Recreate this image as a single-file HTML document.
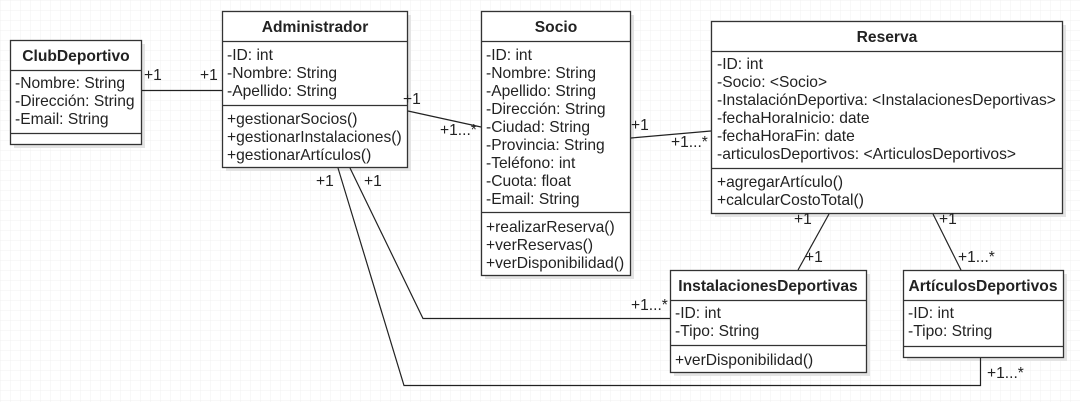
<!DOCTYPE html>
<html><head><meta charset="utf-8"><style>
html,body{margin:0;padding:0;background:#fff;}
svg{display:block;}
text{font-family:"Liberation Sans",sans-serif;font-size:15.6px;fill:#222;}
.h{font-weight:bold;text-anchor:middle;}
</style></head><body>
<svg width="1080" height="402" xmlns="http://www.w3.org/2000/svg">
<defs>
<pattern id="g" width="10" height="10" patternUnits="userSpaceOnUse">
<path d="M10 0H0V10" fill="none" stroke="#f0f0f0" stroke-width="1"/>
</pattern>
</defs>
<rect width="1080" height="402" fill="url(#g)"/>
<g fill="#e4e4e4">
<rect x="14" y="44" width="131" height="104"/>
<rect x="226" y="15" width="185" height="156"/>
<rect x="485" y="15" width="149" height="264"/>
<rect x="715" y="25" width="351" height="192"/>
<rect x="674" y="274" width="196" height="102"/>
<rect x="907" y="274" width="160" height="87"/>
</g>
<g fill="#fff" stroke="#333" stroke-width="1.3">
<rect x="10.5" y="40.5" width="131" height="104"/>
<rect x="222.5" y="11.5" width="185" height="156"/>
<rect x="481.5" y="11.5" width="149" height="264"/>
<rect x="711.5" y="21.5" width="351" height="192"/>
<rect x="670.5" y="270.5" width="196" height="102"/>
<rect x="903.5" y="270.5" width="160" height="87"/>
</g>
<g stroke="#333" stroke-width="1.3">
<line x1="10" y1="70.5" x2="142" y2="70.5"/><line x1="10" y1="133.5" x2="142" y2="133.5"/>
<line x1="222" y1="41.5" x2="408" y2="41.5"/><line x1="222" y1="105.5" x2="408" y2="105.5"/>
<line x1="481" y1="41.5" x2="631" y2="41.5"/><line x1="481" y1="212.5" x2="631" y2="212.5"/>
<line x1="711" y1="51.5" x2="1063" y2="51.5"/><line x1="711" y1="168.5" x2="1063" y2="168.5"/>
<line x1="670" y1="300.5" x2="867" y2="300.5"/><line x1="670" y1="345.5" x2="867" y2="345.5"/>
<line x1="903" y1="300.5" x2="1064" y2="300.5"/><line x1="903" y1="346.5" x2="1064" y2="346.5"/>
</g>
<g stroke="#222" stroke-width="1.2" fill="none">
<line x1="142" y1="90.5" x2="222" y2="90.5"/>
<line x1="408" y1="111" x2="481" y2="127"/>
<line x1="631" y1="138" x2="711" y2="131"/>
<line x1="829" y1="214" x2="798" y2="270"/>
<line x1="933" y1="214" x2="961" y2="270"/>
<polyline points="338,168 404,385.5 980.5,385.5 980.5,358"/>
<polyline points="350,168 423,318.5 670,318.5"/>
</g>
<text class="h" x="76" y="61">ClubDeportivo</text>
<text x="15" y="88">-Nombre: String</text>
<text x="15" y="106">-Dirección: String</text>
<text x="15" y="124">-Email: String</text>
<text class="h" x="315" y="32">Administrador</text>
<text x="227" y="60">-ID: int</text>
<text x="227" y="78">-Nombre: String</text>
<text x="227" y="96">-Apellido: String</text>
<text x="227" y="124">+gestionarSocios()</text>
<text x="227" y="142">+gestionarInstalaciones()</text>
<text x="227" y="160">+gestionarArtículos()</text>
<text class="h" x="556" y="32">Socio</text>
<text x="486" y="60">-ID: int</text>
<text x="486" y="78">-Nombre: String</text>
<text x="486" y="96">-Apellido: String</text>
<text x="486" y="114">-Dirección: String</text>
<text x="486" y="132">-Ciudad: String</text>
<text x="486" y="150">-Provincia: String</text>
<text x="486" y="168">-Teléfono: int</text>
<text x="486" y="186">-Cuota: float</text>
<text x="486" y="204">-Email: String</text>
<text x="486" y="232">+realizarReserva()</text>
<text x="486" y="250">+verReservas()</text>
<text x="486" y="268">+verDisponibilidad()</text>
<text class="h" x="887" y="42">Reserva</text>
<text x="717" y="69">-ID: int</text>
<text x="717" y="87">-Socio: &lt;Socio&gt;</text>
<text x="717" y="105">-InstalaciónDeportiva: &lt;InstalacionesDeportivas&gt;</text>
<text x="717" y="123">-fechaHoraInicio: date</text>
<text x="717" y="141">-fechaHoraFin: date</text>
<text x="717" y="159">-articulosDeportivos: &lt;ArticulosDeportivos&gt;</text>
<text x="717" y="187">+agregarArtículo()</text>
<text x="717" y="205">+calcularCostoTotal()</text>
<text class="h" x="768" y="291">InstalacionesDeportivas</text>
<text x="675" y="318">-ID: int</text>
<text x="675" y="336">-Tipo: String</text>
<text x="675" y="365">+verDisponibilidad()</text>
<text class="h" x="983" y="291">ArtículosDeportivos</text>
<text x="908" y="318">-ID: int</text>
<text x="908" y="336">-Tipo: String</text>
<text x="144" y="80">+1</text>
<text x="200" y="80">+1</text>
<text x="403" y="104">+1</text>
<text x="440" y="135">+1...*</text>
<text x="631" y="130">+1</text>
<text x="671" y="147">+1...*</text>
<text x="794" y="224">+1</text>
<text x="805" y="262">+1</text>
<text x="939" y="224">+1</text>
<text x="958" y="262">+1...*</text>
<text x="316" y="186">+1</text>
<text x="364" y="186">+1</text>
<text x="631" y="310">+1...*</text>
<text x="987" y="378">+1...*</text>
</svg>
</body></html>
